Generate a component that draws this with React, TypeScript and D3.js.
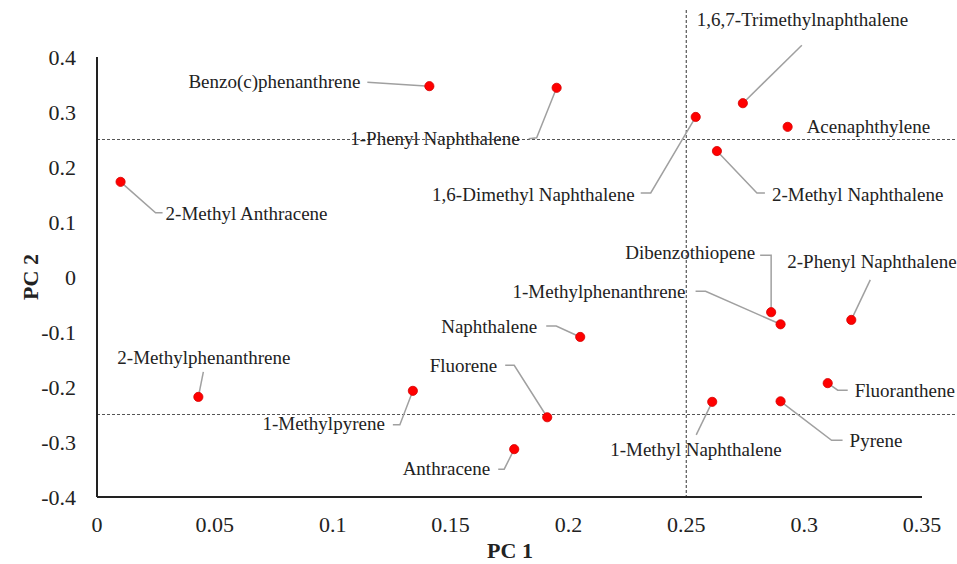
import React, { useEffect, useRef } from "react";
import * as d3 from "d3";

// compound names and their PCA loadings
const names = [
  "Benzo(c)phenanthrene",
  "1-Phenyl Naphthalene",
  "1,6-Dimethyl Naphthalene",
  "1,6,7-Trimethylnaphthalene",
  "Acenaphthylene",
  "2-Methyl Naphthalene",
  "2-Methyl Anthracene",
  "Dibenzothiopene",
  "2-Phenyl Naphthalene",
  "1-Methylphenanthrene",
  "Naphthalene",
  "2-Methylphenanthrene",
  "Fluorene",
  "1-Methylpyrene",
  "Anthracene",
  "1-Methyl Naphthalene",
  "Pyrene",
  "Fluoranthene",
];
const pc1 = [0.141, 0.195, 0.254, 0.274, 0.293, 0.263, 0.01, 0.286, 0.32, 0.29, 0.205, 0.043, 0.191, 0.134, 0.177, 0.261, 0.29, 0.31];
const pc2 = [0.347, 0.344, 0.291, 0.316, 0.273, 0.229, 0.173, -0.064, -0.078, -0.086, -0.109, -0.218, -0.255, -0.207, -0.313, -0.227, -0.226, -0.193];

const xTicks = [0, 0.05, 0.1, 0.15, 0.2, 0.25, 0.3, 0.35];
const yTicks = [0.4, 0.3, 0.2, 0.1, 0, -0.1, -0.2, -0.3, -0.4];
const cutX = 0.25;
const cutY = [0.25, -0.25];

// label placement, pixel offsets from the point: text anchor + leader line
const labelLayout: { dx: number; dy: number; anchor: string; leader: number[][] }[] = [
  { dx: -69, dy: -4, anchor: "end", leader: [[-62, -4], [0, 0]] },
  { dx: -37, dy: 51, anchor: "end", leader: [[-28, 51], [-20, 50], [0, 0]] },
  { dx: -61, dy: 78, anchor: "end", leader: [[-55, 76], [-45, 76], [0, 0]] },
  { dx: -46, dy: -83, anchor: "start", leader: [[59, -58], [0, 0]] },
  { dx: 19, dy: 0, anchor: "start", leader: [] },
  { dx: 55, dy: 44, anchor: "start", leader: [[0, 0], [40, 42], [48, 42]] },
  { dx: 45, dy: 32, anchor: "start", leader: [[0, 0], [35, 31], [42, 31]] },
  { dx: -16, dy: -59, anchor: "end", leader: [[-11, -57], [0, -57], [0, 0]] },
  { dx: -64, dy: -58, anchor: "start", leader: [[19, -40], [0, 0]] },
  { dx: -95, dy: -32, anchor: "end", leader: [[-85, -33], [-75, -33], [0, 0]] },
  { dx: -43, dy: -10, anchor: "end", leader: [[-34, -11], [-24, -11], [0, 0]] },
  { dx: -81, dy: -39, anchor: "start", leader: [[5, -25], [0, 0]] },
  { dx: -50, dy: -51, anchor: "end", leader: [[-42, -52], [-33, -52], [0, 0]] },
  { dx: -28, dy: 33, anchor: "end", leader: [[-20, 34], [-13, 34], [0, 0]] },
  { dx: -24, dy: 20, anchor: "end", leader: [[-16, 20], [-10, 20], [0, 0]] },
  { dx: -102, dy: 48, anchor: "start", leader: [[-16, 33], [0, 0]] },
  { dx: 69, dy: 40, anchor: "start", leader: [[0, 0], [51, 39], [62, 39]] },
  { dx: 27, dy: 8, anchor: "start", leader: [[0, 0], [10, 7], [20, 7]] },
];

const W = 957;
const H = 564;
const font = "'Liberation Serif', 'Times New Roman', serif";

export default function App() {
  const ref = useRef<SVGSVGElement>(null);

  useEffect(() => {
    const svg = d3.select(ref.current);
    svg.selectAll("*").remove();

    const x = d3.scaleLinear().domain([0, 0.35]).range([97, 922]);
    const y = d3.scaleLinear().domain([-0.4, 0.4]).range([497, 57]);

    // dashed cut lines
    cutY.forEach((v) => {
      svg.append("line")
        .attr("x1", x(0)).attr("x2", W)
        .attr("y1", y(v)).attr("y2", y(v))
        .attr("stroke", "#555").attr("stroke-width", 1.2)
        .attr("stroke-dasharray", "3,2");
    });
    svg.append("line")
      .attr("x1", x(cutX)).attr("x2", x(cutX))
      .attr("y1", 10).attr("y2", y(-0.4))
      .attr("stroke", "#555").attr("stroke-width", 1.2)
      .attr("stroke-dasharray", "3,2");

    // axes
    svg.append("line")
      .attr("x1", x(0)).attr("x2", x(0))
      .attr("y1", y(0.4)).attr("y2", y(-0.4))
      .attr("stroke", "#222").attr("stroke-width", 2);
    svg.append("line")
      .attr("x1", x(0)).attr("x2", x(0.35))
      .attr("y1", y(-0.4)).attr("y2", y(-0.4))
      .attr("stroke", "#222").attr("stroke-width", 2);

    svg.append("g")
      .selectAll("text")
      .data(xTicks)
      .join("text")
      .attr("x", (d) => x(d))
      .attr("y", 532)
      .attr("text-anchor", "middle")
      .style("font-family", font)
      .style("font-size", "22px")
      .attr("fill", "#222")
      .text((d) => String(d));

    svg.append("g")
      .selectAll("text")
      .data(yTicks)
      .join("text")
      .attr("x", 76)
      .attr("y", (d) => y(d) + 7.5)
      .attr("text-anchor", "end")
      .style("font-family", font)
      .style("font-size", "22px")
      .attr("fill", "#222")
      .text((d) => String(d));

    svg.append("text")
      .attr("x", 510).attr("y", 558)
      .attr("text-anchor", "middle")
      .style("font-family", font).style("font-size", "22px").style("font-weight", "bold")
      .attr("fill", "#222")
      .text("PC 1");
    svg.append("text")
      .attr("transform", "translate(38,277) rotate(-90)")
      .attr("text-anchor", "middle")
      .style("font-family", font).style("font-size", "22px").style("font-weight", "bold")
      .attr("fill", "#222")
      .text("PC 2");

    const pts = names.map((n, i) => ({ name: n, px: x(pc1[i]), py: y(pc2[i]), lay: labelLayout[i] }));

    // leader lines
    const line = d3.line();
    svg.append("g")
      .selectAll("path")
      .data(pts.filter((p) => p.lay.leader.length))
      .join("path")
      .attr("d", (p) => line(p.lay.leader.map(([a, b]) => [p.px + a, p.py + b] as [number, number])))
      .attr("fill", "none")
      .attr("stroke", "#a0a0a0")
      .attr("stroke-width", 1.5);

    svg.append("g")
      .selectAll("text")
      .data(pts)
      .join("text")
      .attr("x", (p) => p.px + p.lay.dx)
      .attr("y", (p) => p.py + p.lay.dy + 6)
      .attr("text-anchor", (p) => p.lay.anchor)
      .style("font-family", font)
      .style("font-size", "19px")
      .attr("fill", "#222")
      .text((p) => p.name);

    svg.append("g")
      .selectAll("circle")
      .data(pts)
      .join("circle")
      .attr("cx", (p) => p.px)
      .attr("cy", (p) => p.py)
      .attr("r", 4.6)
      .attr("fill", "#ff0000")
      .attr("stroke", "#d40000")
      .attr("stroke-width", 0.8);
  }, []);

  return (
    <svg
      ref={ref}
      width={W}
      height={H}
      style={{ position: "absolute", left: 0, top: 0, background: "#fff" }}
    />
  );
}
